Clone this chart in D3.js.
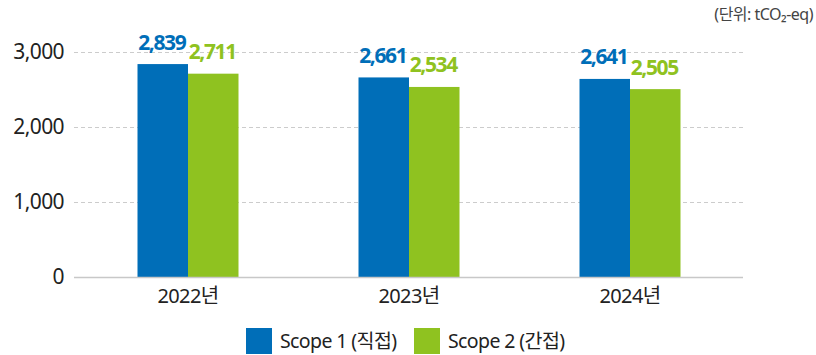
<!DOCTYPE html>
<html>
<head>
<meta charset="utf-8">
<script src="https://cdn.jsdelivr.net/npm/d3@7"></script>
<style>
  html, body { margin: 0; padding: 0; background: #fff; }
  svg { display: block; font-family: "Noto Sans", "Noto Sans CJK KR", sans-serif; }
</style>
</head>
<body>
<svg id="chart" width="816" height="355"></svg>
<script>
// Emissions by year and scope (tCO2-eq)
const years = ["2022년", "2023년", "2024년"];
const seriesNames = ["Scope 1 (직접)", "Scope 2 (간접)"];
const scope1 = [2839, 2661, 2641];
const scope2 = [2711, 2534, 2505];
const yTicks = [0, 1000, 2000, 3000];
const unitLabel = "(단위: tCO₂-eq)";
const colors = ["#006eb8", "#8fc220"];

const svg = d3.select("#chart");
const W = 816, H = 355;
const plotLeft = 74, plotRight = 743, plotTop = 52, zeroY = 277;

const x = d3.scaleBand().domain(years).range([plotLeft + 3.5, plotRight - 2.5]).paddingInner(0).paddingOuter(0);
const y = d3.scaleLinear().domain([0, 3000]).range([zeroY, plotTop]);
const groupW = 101;
const xs = d3.scaleBand().domain(seriesNames).range([0, groupW]);

const values = [scope1, scope2];

// gridlines
const grid = svg.append("g");
grid.selectAll("line.g").data(yTicks.filter(d => d > 0)).join("line")
  .attr("x1", plotLeft).attr("x2", plotRight)
  .attr("y1", d => y(d) + 0.5).attr("y2", d => y(d) + 0.5)
  .attr("stroke", "#cccccc").attr("stroke-width", 1.2)
  .attr("stroke-dasharray", "4,3");

// y-axis labels
const yAxis = d3.axisLeft(y).tickValues(yTicks).tickSize(0).tickPadding(0)
  .tickFormat(d3.format(","));
const ya = svg.append("g").attr("transform", `translate(${plotLeft - 10},0)`).call(yAxis);
ya.select(".domain").remove();
ya.selectAll("text").attr("font-size", 21).attr("fill", "#222")
  .attr("font-family", "'Noto Sans', sans-serif").attr("letter-spacing", "-0.6px");

// bars
years.forEach((yr, i) => {
  const gx = x(yr) + x.bandwidth() / 2 - groupW / 2;
  seriesNames.forEach((s, j) => {
    const v = values[j][i];
    svg.append("rect")
      .attr("x", gx + xs(s)).attr("y", y(v))
      .attr("width", xs.bandwidth()).attr("height", zeroY + 1 - y(v))
      .attr("fill", colors[j]);
  });
});

// baseline
svg.append("line").attr("x1", plotLeft).attr("x2", plotRight)
  .attr("y1", zeroY + 0.5).attr("y2", zeroY + 0.5)
  .attr("stroke", "#c8c8c8").attr("stroke-width", 1.5);

// value labels
years.forEach((yr, i) => {
  const gx = x(yr) + x.bandwidth() / 2 - groupW / 2;
  seriesNames.forEach((s, j) => {
    const v = values[j][i];
    svg.append("text")
      .attr("x", gx + xs(s) + xs.bandwidth() / 2 - 1)
      .attr("y", y(v) - 14.5)
      .attr("text-anchor", "middle")
      .attr("font-size", 21).attr("font-weight", 700)
      .attr("letter-spacing", "-1.4px")
      .attr("fill", colors[j])
      .text(d3.format(",")(v));
  });
});

// x-axis labels
const xAxis = d3.axisBottom(x).tickSize(0).tickPadding(0);
const xa = svg.append("g").attr("transform", `translate(0,${zeroY + 26})`).call(xAxis);
xa.select(".domain").remove();
xa.selectAll("text").attr("dy", 0).attr("font-size", 20).attr("fill", "#222")
  .attr("font-family", "'Noto Sans', 'Noto Sans CJK KR', sans-serif").attr("letter-spacing", "-0.6px");

// unit label
svg.append("text").attr("x", W - 3).attr("y", 20)
  .attr("text-anchor", "end").attr("font-size", 16).attr("fill", "#444")
  .attr("letter-spacing", "-0.5px")
  .text(unitLabel);

// legend
const legendX = [246, 414];
seriesNames.forEach((s, j) => {
  const g = svg.append("g").attr("transform", `translate(${legendX[j]},328)`);
  g.append("rect").attr("width", 26).attr("height", 26).attr("fill", colors[j]);
  g.append("text").attr("x", 34).attr("y", 20)
    .attr("font-size", 19.5).attr("fill", "#222").attr("letter-spacing", "-0.6px")
    .text(s);
});
</script>
</body>
</html>
